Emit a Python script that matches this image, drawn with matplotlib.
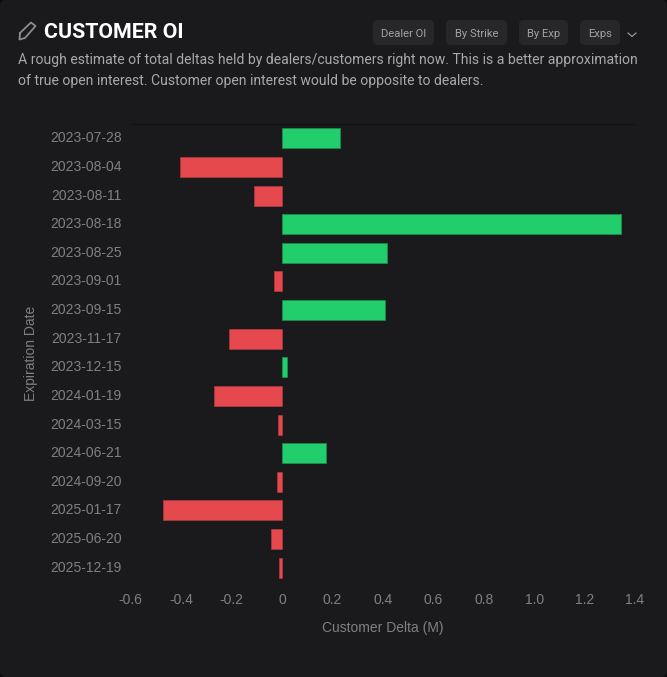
import numpy as np
import matplotlib
matplotlib.use('Agg')
import matplotlib.pyplot as plt
from matplotlib.patches import FancyBboxPatch

W, H = 667, 677

# data
dates = ['2023-07-28', '2023-08-04', '2023-08-11', '2023-08-18', '2023-08-25', '2023-09-01',
         '2023-09-15', '2023-11-17', '2023-12-15', '2024-01-19', '2024-03-15', '2024-06-21',
         '2024-09-20', '2025-01-17', '2025-06-20', '2025-12-19']
delta = [0.23, -0.405, -0.11, 1.345, 0.415, -0.03, 0.41, -0.21, 0.018, -0.27, -0.015, 0.175,
         -0.02, -0.47, -0.045, -0.012]
xticks = [-0.6, -0.4, -0.2, 0, 0.2, 0.4, 0.6, 0.8, 1.0, 1.2, 1.4]
xtick_labels = ['-0.6', '-0.4', '-0.2', '0', '0.2', '0.4', '0.6', '0.8', '1.0', '1.2', '1.4']
buttons = ['Dealer OI', 'By Strike', 'By Exp', 'Exps']

CARD = '#1a1a1c'
GREEN = '#22ce6c'
RED = '#e5484d'

fig = plt.figure(figsize=(W / 100, H / 100), dpi=100, facecolor='#0b0b0d')

# page overlay in pixel coordinates
bg = fig.add_axes([0, 0, 1, 1])
bg.set_xlim(0, W)
bg.set_ylim(H, 0)
bg.axis('off')
bg.add_patch(FancyBboxPatch((0, 0), W, H, boxstyle='round,pad=0,rounding_size=6',
                            fc=CARD, ec='none'))

# pencil icon
bg.plot([20, 31, 35.5, 25, 19.5, 20], [33, 22.5, 26, 38, 39.5, 33], color='#8c8c8f', lw=1.3)

bg.text(44, 32, 'CUSTOMER OI', color='white', fontsize=15.4, fontweight='bold', family='Roboto',
        va='center', ha='left')

desc = ['A rough estimate of total deltas held by dealers/customers right now. This is a better approximation',
        'of true open interest. Customer open interest would be opposite to dealers.']
bg.text(18, 60, desc[0], color='#a9a9ac', fontsize=10.05, family='Roboto', va='center')
bg.text(18, 81, desc[1], color='#a9a9ac', fontsize=10.05, family='Roboto', va='center')

# button row
btn_x = [(373, 434), (446, 507), (519, 568), (580, 620)]
for (x0, x1), label in zip(btn_x, buttons):
    bg.add_patch(FancyBboxPatch((x0, 20), x1 - x0, 25, boxstyle='round,pad=0,rounding_size=5',
                                fc='#27272a', ec='none'))
    bg.text((x0 + x1) / 2, 34, label, color='#a3a3a6', fontsize=8.1, family='Roboto',
            ha='center', va='center')
bg.plot([628, 632, 636], [33, 36.5, 33], color='#a3a3a6', lw=0.8)

# chart area
L, R, T, B = 130.7, 635, 124, 582
ax = fig.add_axes([L / W, 1 - B / H, (R - L) / W, (B - T) / H])
ax.patch.set_alpha(0)

y = np.arange(len(dates))
colors = [GREEN if v > 0 else RED for v in delta]
edges = ['#1d8a4e' if v > 0 else '#a63a3e' for v in delta]
ax.barh(y, delta, height=0.7, color=colors, edgecolor=edges, linewidth=0.6)
ax.set_ylim(len(dates) - 0.5, -0.5)
ax.set_xlim(-0.6, 1.4)

ax.set_yticks(y)
ax.set_yticklabels(dates, va='center')
ax.set_xticks(xticks)
ax.set_xticklabels(xtick_labels)
ax.tick_params(axis='both', length=0, labelcolor='#808083', labelsize=10)
ax.tick_params(axis='y', pad=6.5)
ax.tick_params(axis='x', pad=8)
for lab in ax.get_xticklabels() + ax.get_yticklabels():
    lab.set_family('Liberation Sans')

for s in ['left', 'right', 'bottom']:
    ax.spines[s].set_visible(False)
ax.spines['top'].set_color('#131315')
ax.spines['top'].set_linewidth(1)

ax.set_xlabel('Customer Delta (M)', color='#808083', fontsize=10, family='Liberation Sans', labelpad=10)
ax.set_ylabel('Expiration Date', color='#808083', fontsize=10, family='Liberation Sans', labelpad=9)

fig.savefig('out.png', dpi=100, facecolor=fig.get_facecolor())
